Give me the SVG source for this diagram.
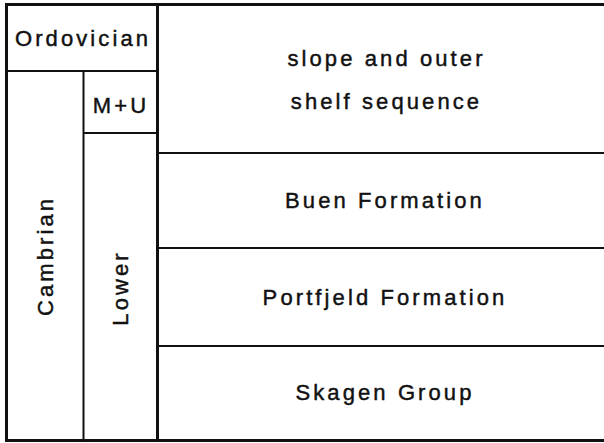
<svg xmlns="http://www.w3.org/2000/svg" width="604" height="443" viewBox="0 0 604 443">
<style>
.t{font-family:"Liberation Sans",Arial,sans-serif;font-size:22px;letter-spacing:3.1px;fill:#111;stroke:#111;stroke-width:0.45;text-anchor:middle}
.thick{stroke:#111;stroke-width:3;fill:none}
.thin{stroke:#111;stroke-width:2;fill:none}
</style>
<rect width="604" height="443" fill="#fff"/>
<g id="connectors">
<line class="thick" x1="6.5" y1="4.5" x2="604" y2="4.5"/>
<line class="thick" x1="6.5" y1="440.5" x2="604" y2="440.5"/>
<line class="thick" x1="6.5" y1="3" x2="6.5" y2="442"/>
<line class="thick" x1="157.5" y1="3" x2="157.5" y2="442"/>
<line class="thin" x1="6.5" y1="71" x2="157.5" y2="71"/>
<line class="thin" x1="83.5" y1="71" x2="83.5" y2="440.5"/>
<line class="thin" x1="83.5" y1="133" x2="157.5" y2="133"/>
<line class="thin" x1="157.5" y1="153" x2="604" y2="153"/>
<line class="thin" x1="157.5" y1="248" x2="604" y2="248"/>
<line class="thin" x1="157.5" y1="346" x2="604" y2="346"/>
</g>
<g id="ordovician"><text class="t" x="83" y="46">Ordovician</text></g>
<g id="cambrian"><text class="t" transform="translate(52.5,256) rotate(-90)" x="0" y="0">Cambrian</text></g>
<g id="mu"><text class="t" x="121" y="113">M+U</text></g>
<g id="lower"><text class="t" transform="translate(128,288) rotate(-90)" x="0" y="0">Lower</text></g>
<g id="slope"><text class="t" x="386.5" y="66">slope and outer</text><text class="t" x="386.5" y="109">shelf sequence</text></g>
<g id="buen"><text class="t" x="385" y="208">Buen Formation</text></g>
<g id="portfjeld"><text class="t" x="385" y="305">Portfjeld Formation</text></g>
<g id="skagen"><text class="t" x="385" y="400">Skagen Group</text></g>
</svg>
